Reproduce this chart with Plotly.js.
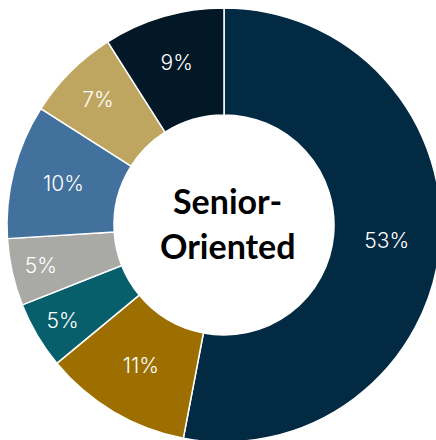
<!DOCTYPE html>
<html>
<head>
<meta charset="utf-8">
<script src="https://cdn.plot.ly/plotly-3.0.1.min.js"></script>
<style>
html, body { margin: 0; padding: 0; overflow: hidden; background: #ffffff; }
#chart { width: 441px; height: 442px; }
</style>
</head>
<body>
<div id="chart"></div>
<script>
const categories = ["Segment 1", "Segment 2", "Segment 3", "Segment 4", "Segment 5", "Segment 6", "Segment 7"];
const shares = [53, 11, 5, 5, 10, 7, 9];
const sliceColors = ["#022b43", "#9c6f00", "#065f6b", "#a9aaa6", "#42719d", "#bea661", "#021826"];
const centerLines = ["Senior-", "Oriented"];

const trace = {
  type: "pie",
  labels: categories,
  values: shares,
  hole: 0.507,
  sort: false,
  direction: "clockwise",
  rotation: 0,
  marker: { colors: sliceColors, line: { color: "#ffffff", width: 1.5 } },
  texttemplate: "%{value}%",
  textposition: "inside",
  insidetextorientation: "horizontal",
  textfont: { family: "Inter, sans-serif", size: 21, weight: 300, color: "#ffffff" },
  hoverinfo: "label+value",
  showlegend: false
};

const layout = {
  width: 441,
  height: 442,
  margin: { l: 7, r: 0, t: 8, b: 0, pad: 0 },
  paper_bgcolor: "#ffffff",
  showlegend: false,
  annotations: [
    { text: "<b>" + centerLines[0] + "</b>", xref: "paper", yref: "paper", x: 0.509, y: 0.557, showarrow: false,
      xanchor: "center", yanchor: "middle", font: { family: "Lato, sans-serif", size: 34, color: "#000000" } },
    { text: "<b>" + centerLines[1] + "</b>", xref: "paper", yref: "paper", x: 0.509, y: 0.452, showarrow: false,
      xanchor: "center", yanchor: "middle", font: { family: "Lato, sans-serif", size: 34, color: "#000000" } }
  ]
};

Plotly.newPlot("chart", [trace], layout, { displayModeBar: false, staticPlot: true });
</script>
</body>
</html>
